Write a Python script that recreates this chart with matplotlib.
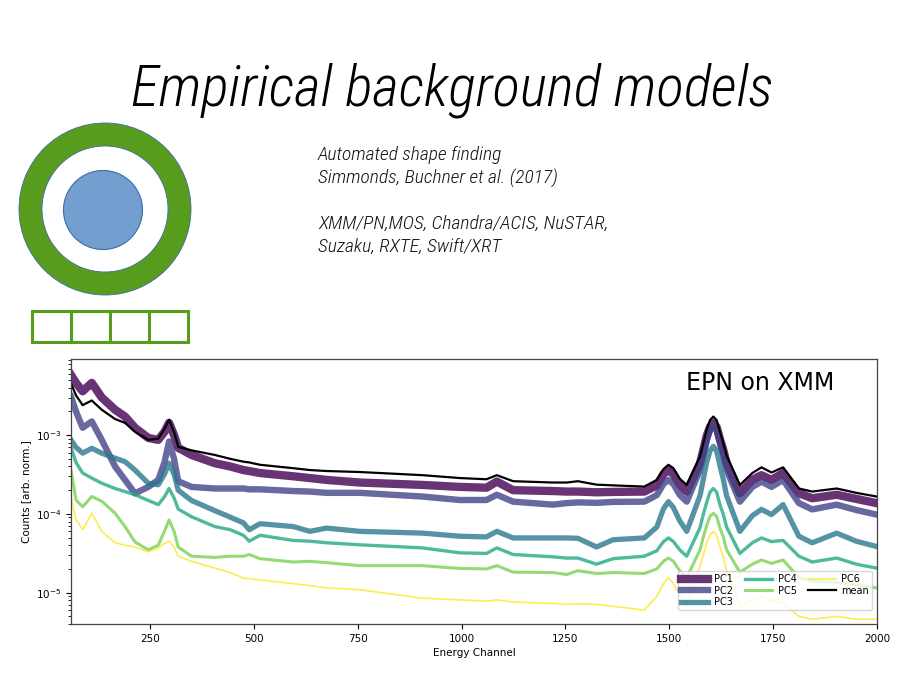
import matplotlib
matplotlib.use("Agg")
import matplotlib.pyplot as plt
from matplotlib.patches import Circle, Wedge, Rectangle
import numpy as np

# ---------------- data ----------------
channel = [60, 72, 88, 110, 134, 166, 190, 214, 246, 270,
           285, 296, 308, 318, 350, 406, 443, 475, 489, 515,
           595, 635, 675, 755, 906, 996, 1060, 1085, 1124, 1220,
           1253, 1280, 1325, 1365, 1440, 1470, 1486, 1498, 1510, 1525,
           1542, 1574, 1582, 1590, 1598, 1606, 1614, 1622, 1630, 1638,
           1670, 1700, 1722, 1746, 1774, 1812, 1844, 1903, 1950, 1999]

mean = [4.5e-3, 3.2e-3, 2.4e-3, 2.75e-3, 2.1e-3, 1.6e-3, 1.43e-3, 1.1e-3, 8.7e-4, 9.0e-4,
        1.2e-3, 1.56e-3, 1.1e-3, 7.1e-4, 6.4e-4, 5.6e-4, 5.0e-4, 4.6e-4, 4.5e-4, 4.2e-4,
        3.8e-4, 3.6e-4, 3.5e-4, 3.4e-4, 3.1e-4, 2.85e-4, 2.75e-4, 3.1e-4, 2.6e-4, 2.5e-4,
        2.5e-4, 2.6e-4, 2.35e-4, 2.3e-4, 2.22e-4, 2.7e-4, 3.7e-4, 4.2e-4, 3.8e-4, 2.8e-4,
        2.33e-4, 5.35e-4, 7.9e-4, 1.17e-3, 1.55e-3, 1.72e-3, 1.55e-3, 1.1e-3, 7.9e-4, 5.5e-4,
        2.33e-4, 3.3e-4, 3.9e-4, 3.35e-4, 3.9e-4, 2.1e-4, 1.92e-4, 2.1e-4, 1.85e-4, 1.66e-4]

pc1 = [5.8e-3, 4.6e-3, 3.6e-3, 4.6e-3, 3.0e-3, 2.1e-3, 1.72e-3, 1.24e-3, 9.2e-4, 8.7e-4,
       1.1e-3, 1.43e-3, 1.0e-3, 6.9e-4, 5.6e-4, 4.4e-4, 4.0e-4, 3.6e-4, 3.5e-4, 3.3e-4,
       3.0e-4, 2.85e-4, 2.7e-4, 2.5e-4, 2.33e-4, 2.2e-4, 2.15e-4, 2.57e-4, 2.0e-4, 1.95e-4,
       1.92e-4, 1.92e-4, 1.88e-4, 1.9e-4, 1.92e-4, 2.3e-4, 3.2e-4, 3.6e-4, 3.2e-4, 2.35e-4,
       1.92e-4, 4.4e-4, 6.5e-4, 9.7e-4, 1.27e-3, 1.42e-3, 1.27e-3, 8.9e-4, 6.5e-4, 4.4e-4,
       1.83e-4, 2.7e-4, 3.1e-4, 2.7e-4, 3.3e-4, 1.83e-4, 1.58e-4, 1.75e-4, 1.55e-4, 1.37e-4]

pc2 = [3.1e-3, 2.0e-3, 1.24e-3, 1.49e-3, 8.7e-4, 4.0e-4, 2.7e-4, 1.82e-4, 2.2e-4, 2.7e-4,
       4.5e-4, 8.3e-4, 5.0e-4, 2.6e-4, 2.2e-4, 2.1e-4, 2.1e-4, 2.1e-4, 2.05e-4, 2.05e-4,
       1.95e-4, 1.92e-4, 1.85e-4, 1.85e-4, 1.66e-4, 1.5e-4, 1.5e-4, 1.75e-4, 1.43e-4, 1.31e-4,
       1.37e-4, 1.4e-4, 1.38e-4, 1.42e-4, 1.43e-4, 1.73e-4, 2.4e-4, 2.7e-4, 2.4e-4, 1.75e-4,
       1.43e-4, 3.6e-4, 5.5e-4, 8.5e-4, 1.15e-3, 1.29e-3, 1.15e-3, 7.8e-4, 5.5e-4, 3.6e-4,
       1.43e-4, 2.2e-4, 2.57e-4, 2.2e-4, 2.7e-4, 1.37e-4, 1.14e-4, 1.31e-4, 1.12e-4, 9.8e-5]

pc3 = [8.7e-4, 7.0e-4, 5.9e-4, 6.8e-4, 5.9e-4, 5.1e-4, 4.6e-4, 3.6e-4, 2.45e-4, 2.34e-4,
       3.2e-4, 4.4e-4, 3.2e-4, 2.0e-4, 1.48e-4, 1.1e-4, 9.1e-5, 7.7e-5, 6.3e-5, 7.5e-5,
       6.9e-5, 6.0e-5, 6.6e-5, 6.0e-5, 5.7e-5, 5.2e-5, 5.1e-5, 6.0e-5, 4.95e-5, 4.95e-5,
       4.95e-5, 4.9e-5, 3.8e-5, 4.7e-5, 4.95e-5, 6.8e-5, 1.16e-4, 1.43e-4, 1.2e-4, 8.2e-5,
       6.0e-5, 1.7e-4, 2.76e-4, 4.5e-4, 6.3e-4, 7.2e-4, 6.3e-4, 4.1e-4, 2.76e-4, 1.7e-4,
       6.0e-5, 9.5e-5, 1.14e-4, 9.8e-5, 1.31e-4, 5.2e-5, 4.3e-5, 5.7e-5, 4.5e-5, 3.85e-5]

pc4 = [7.0e-4, 4.5e-4, 3.3e-4, 2.85e-4, 2.45e-4, 2.1e-4, 1.92e-4, 1.75e-4, 1.48e-4, 1.31e-4,
       1.65e-4, 2.1e-4, 1.6e-4, 1.15e-4, 9.2e-5, 6.9e-5, 6.3e-5, 5.35e-5, 4.5e-5, 5.35e-5,
       4.6e-5, 4.5e-5, 4.3e-5, 4.05e-5, 3.7e-5, 3.2e-5, 3.15e-5, 3.7e-5, 3.05e-5, 2.85e-5,
       2.75e-5, 2.75e-5, 2.3e-5, 2.7e-5, 2.9e-5, 3.4e-5, 4.45e-5, 4.95e-5, 4.45e-5, 3.5e-5,
       2.9e-5, 6.7e-5, 9.9e-5, 1.4e-4, 1.89e-4, 2.1e-4, 1.89e-4, 1.3e-4, 9.9e-5, 6.8e-5,
       3.15e-5, 4.3e-5, 4.95e-5, 4.45e-5, 4.6e-5, 2.9e-5, 2.45e-5, 2.75e-5, 2.3e-5, 2.05e-5]

pc5 = [3.6e-4, 1.5e-4, 1.23e-4, 1.66e-4, 1.45e-4, 1.02e-4, 6.9e-5, 4.4e-5, 3.5e-5, 4.0e-5,
       6.0e-5, 8.4e-5, 6.0e-5, 3.8e-5, 2.9e-5, 2.8e-5, 2.9e-5, 2.9e-5, 3.05e-5, 2.7e-5,
       2.45e-5, 2.5e-5, 2.4e-5, 2.2e-5, 2.2e-5, 2.03e-5, 2.0e-5, 2.2e-5, 1.82e-5, 1.8e-5,
       1.7e-5, 1.9e-5, 1.75e-5, 1.8e-5, 1.75e-5, 2.0e-5, 2.5e-5, 2.75e-5, 2.5e-5, 1.9e-5,
       1.55e-5, 3.5e-5, 5.1e-5, 7.1e-5, 9.3e-5, 1.02e-4, 9.3e-5, 6.6e-5, 5.1e-5, 3.5e-5,
       1.82e-5, 2.3e-5, 2.6e-5, 2.35e-5, 2.6e-5, 1.55e-5, 1.4e-5, 1.35e-5, 1.25e-5, 1.15e-5]

pc6 = [1.66e-4, 8.5e-5, 6.3e-5, 1.02e-4, 6.0e-5, 4.3e-5, 4.0e-5, 3.8e-5, 3.3e-5, 3.7e-5,
       4.2e-5, 4.5e-5, 3.8e-5, 2.9e-5, 2.5e-5, 2.05e-5, 1.8e-5, 1.53e-5, 1.5e-5, 1.45e-5,
       1.3e-5, 1.23e-5, 1.15e-5, 1.09e-5, 8.5e-6, 8.1e-6, 7.8e-6, 8.1e-6, 7.6e-6, 7.3e-6,
       7.1e-6, 7.2e-6, 7.1e-6, 6.7e-6, 6.0e-6, 9.0e-6, 1.3e-5, 1.55e-5, 1.3e-5, 9.5e-6,
       6.7e-6, 2.2e-5, 3.0e-5, 4.3e-5, 5.4e-5, 6.0e-5, 5.4e-5, 3.8e-5, 2.8e-5, 1.9e-5,
       6.7e-6, 8.0e-6, 9.0e-6, 8.0e-6, 7.4e-6, 5.0e-6, 4.6e-6, 5.0e-6, 4.6e-6, 4.6e-6]

series_labels = ["PC1", "PC2", "PC3", "PC4", "PC5", "PC6"]
series_values = [pc1, pc2, pc3, pc4, pc5, pc6]
xticks = [250, 500, 750, 1000, 1250, 1500, 1750, 2000]

title_text = "Empirical background models"
info_lines = ["Automated shape finding", "Simmonds, Buchner et al. (2017)", "",
              "XMM/PN,MOS, Chandra/ACIS, NuSTAR,", "Suzaku, RXTE, Swift/XRT"]

# ---------------- figure ----------------
fig = plt.figure(figsize=(9, 6.75), dpi=100)

# slide decoration layer in pixel coordinates
deco = fig.add_axes([0, 0, 1, 1])
deco.set_xlim(0, 900)
deco.set_ylim(675, 0)
deco.axis("off")

green = "#589c1e"
deco.add_patch(Wedge((105, 209), 86, 0, 360, width=23, facecolor=green,
                     edgecolor="#3e6aa8", linewidth=0.6))
deco.add_patch(Circle((103, 210), 39.5, facecolor="#729fcf",
                      edgecolor="#3e6aa8", linewidth=0.8))
for i in range(4):
    deco.add_patch(Rectangle((32 + i * 39, 311), 39, 31, facecolor="white",
                             edgecolor=green, linewidth=2.2))

narrow = ["Roboto Condensed", "Liberation Sans", "DejaVu Sans"]
deco.text(452, 105, title_text, fontsize=41.5, style="italic", weight="light",
          family=narrow, ha="center", va="baseline", color="black")
for k, line in enumerate(info_lines):
    if line:
        deco.text(318, 155 + k * 23, line, fontsize=14, style="italic",
                  weight="light", family=narrow, ha="left", va="center",
                  color="#111111")

# ---------------- chart ----------------
ax = fig.add_axes([71 / 900, 1 - 624 / 675, (877 - 71) / 900, (624 - 359) / 675])
cmap = plt.get_cmap("viridis")
colors = [cmap(v) for v in np.linspace(0, 1, 6)]
widths = [6.0, 4.6, 3.8, 2.4, 2.2, 1.2]

for lab, vals, col, lw in zip(series_labels, series_values, colors, widths):
    ax.plot(channel, vals, color=col, lw=lw, alpha=0.8, label=lab,
            solid_joinstyle="round")
ax.plot(channel, mean, color="black", lw=1.6, label="mean")

ax.set_yscale("log")
ax.set_xlim(60, 2000)
ax.set_ylim(4.0e-6, 9.25e-3)
ax.set_xticks(xticks)
ax.tick_params(axis="both", labelsize=7.5, length=3.5, width=0.8)
ax.tick_params(axis="y", which="minor", length=2, width=0.6)
ax.set_xlabel("Energy Channel", fontsize=7.5, labelpad=3)
ax.set_ylabel("Counts [arb. norm.]", fontsize=7.5, labelpad=3)
for s in ax.spines.values():
    s.set_color("#444444")
    s.set_linewidth(0.9)

ax.text(0.855, 0.909, "EPN on XMM", transform=ax.transAxes, fontsize=17,
        ha="center", va="center")

ax.legend(loc="lower right", bbox_to_anchor=(0.994, 0.053), ncol=3, fontsize=7,
          handlelength=2.8, framealpha=0.8, borderaxespad=0.0, borderpad=0.3,
          labelspacing=0.15, columnspacing=1.2, handletextpad=0.6)

fig.savefig("out.png", dpi=100)
